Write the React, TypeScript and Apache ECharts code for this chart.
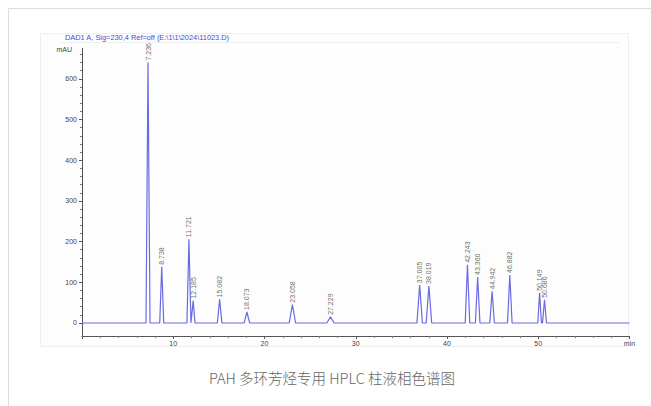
import React, { useEffect, useRef } from "react";
import * as echarts from "echarts";

const retentionTimes = [7.236, 8.738, 11.721, 12.185, 15.082, 18.073, 23.058, 27.229, 37.005, 38.019, 42.243, 43.36, 44.942, 46.882, 50.149, 50.686];
const peakLabels = ["7.236", "8.738", "11.721", "12.185", "15.082", "18.073", "23.058", "27.229", "37.005", "38.019", "42.243", "43.360", "44.942", "46.882", "50.149", "50.686"];
const peakHeights = [640, 138, 206, 55, 58, 27, 45, 15, 93, 91, 143, 113, 78, 118, 74, 57];
const peakHalfWidths = [0.22, 0.22, 0.22, 0.2, 0.25, 0.3, 0.35, 0.4, 0.3, 0.3, 0.25, 0.25, 0.25, 0.25, 0.2, 0.22];
const yTickValues = [0, 100, 200, 300, 400, 500, 600];
const yMinorValues = [20, 40, 60, 80, 120, 140, 160, 180, 220, 240, 260, 280, 320, 340, 360, 380, 420, 440, 460, 480, 520, 540, 560, 580, 620, 640, 660];
const titleText = "DAD1 A, Sig=230,4 Ref=off (E:\\1\\1\\2024\\11023.D)";
const caption = "PAH 多环芳烃专用 HPLC 柱液相色谱图";

export default function App() {
  const ref = useRef<HTMLDivElement>(null);
  useEffect(() => {
    if (!ref.current) return;
    const chart = echarts.init(ref.current, null, { renderer: "svg" });
    const lineData: number[][] = [[0, 0]];
    retentionTimes.forEach((t, i) => {
      const w = peakHalfWidths[i];
      lineData.push([t - w, 0], [t, peakHeights[i]], [t + w, 0]);
    });
    lineData.push([60, 0]);
    const labelData = retentionTimes.map((t, i) => ({ value: [t, peakHeights[i]], name: peakLabels[i] }));
    chart.setOption({
      animation: false,
      backgroundColor: "#fff",
      grid: { left: 82, right: 21.5, top: 48.3, bottom: 70 },
      xAxis: {
        type: "value",
        min: 0,
        max: 60,
        interval: 10,
        axisLine: { onZero: false, lineStyle: { color: "#555", width: 1 } },
        axisTick: { length: 3, lineStyle: { color: "#555" } },
        minorTick: { show: true, splitNumber: 5, length: 2, lineStyle: { color: "#777" } },
        splitLine: { show: false },
        axisLabel: {
          fontSize: 7,
          color: "#444",
          margin: 4,
          formatter: (v: number) => (v === 0 ? "" : v === 60 ? "min" : String(v)),
        },
      },
      yAxis: [
        {
          type: "value",
          min: -32,
          max: 675,
          axisLine: { show: true, lineStyle: { color: "#555" } },
          axisTick: { show: true, length: 3, customValues: yTickValues, lineStyle: { color: "#555" } },
          axisLabel: { fontSize: 7, color: "#444", margin: 5, customValues: yTickValues },
          splitLine: { show: false },
        },
        {
          type: "value",
          min: -32,
          max: 675,
          position: "left",
          axisLine: { show: false },
          axisTick: { show: true, length: 2, customValues: yMinorValues, lineStyle: { color: "#777" } },
          axisLabel: { show: false },
          splitLine: { show: false },
        },
      ],
      series: [
        {
          type: "line",
          data: lineData,
          showSymbol: false,
          symbol: "none",
          lineStyle: { color: "#6a6ae2", width: 1.2 },
          z: 3,
        },
        {
          type: "scatter",
          data: labelData,
          symbolSize: 0,
          itemStyle: { color: "#444" },
          label: {
            show: true,
            formatter: (p: any) => p.name,
            position: "top",
            distance: 2,
            rotate: 90,
            align: "left",
            verticalAlign: "middle",
            fontSize: 7,
            color: "#444",
          },
          emphasis: { disabled: true },
          z: 4,
        },
      ],
      graphic: [
        { type: "line", shape: { x1: 8.5, y1: 8.5, x2: 651, y2: 8.5 }, style: { stroke: "#ddd", lineWidth: 1 }, z: -10 },
        { type: "line", shape: { x1: 8.5, y1: 8.5, x2: 8.5, y2: 406 }, style: { stroke: "#ddd", lineWidth: 1 }, z: -10 },
        { type: "rect", shape: { x: 40.5, y: 33.5, width: 588, height: 313 }, style: { fill: "#fdfdfd", stroke: "#eeeeee" }, z: -9, silent: true },
        { type: "line", shape: { x1: 60, y1: 42.5, x2: 620, y2: 42.5 }, style: { stroke: "#f0f0f0", lineWidth: 1 }, z: -8 },
        { type: "text", x: 65, y: 37, style: { text: titleText, fontSize: 7.4, fill: "#4a4ad6", textVerticalAlign: "middle", fontFamily: "Liberation Sans" } },
        { type: "text", x: 72, y: 49, style: { text: "mAU", fontSize: 7, fill: "#444", textAlign: "right", textVerticalAlign: "middle" } },
        { type: "text", x: 332, y: 377, style: { text: caption, fontSize: 14.5, fill: "#666", textAlign: "center", textVerticalAlign: "middle", fontFamily: "Noto Sans CJK SC", fontWeight: 300 } },
      ],
    });
    return () => chart.dispose();
  }, []);
  return <div ref={ref} style={{ position: "fixed", left: 0, top: 0, width: 651, height: 406 }} />;
}
